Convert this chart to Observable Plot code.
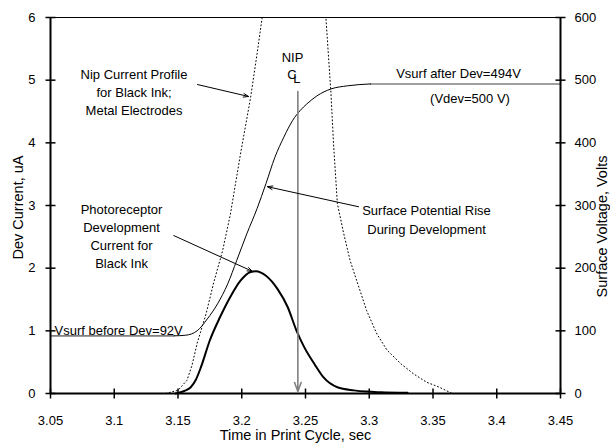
<!DOCTYPE html>
<html><head><meta charset="utf-8">
<script src="https://cdn.jsdelivr.net/npm/d3@7"></script>
<script src="https://cdn.jsdelivr.net/npm/@observablehq/plot@0.6"></script>
<style>body{margin:0;background:#fff}</style>
</head><body><div id="chart"></div>
<script>
// ---- data ----
const xTicks = [3.05, 3.1, 3.15, 3.2, 3.25, 3.3, 3.35, 3.4, 3.45];
const xTickLabels = ["3.05", "3.1", "3.15", "3.2", "3.25", "3.3", "3.35", "3.4", "3.45"];
const yTicks = [0, 1, 2, 3, 4, 5, 6];
const yTickLabels = ["0", "1", "2", "3", "4", "5", "6"];
const voltTickLabels = ["0", "100", "200", "300", "400", "500", "600"];
const voltsPerUnit = 100;

// Photoreceptor development current (uA)
const devTime = [3.148, 3.155, 3.160, 3.164, 3.168, 3.175, 3.183, 3.191, 3.199, 3.207, 3.211, 3.215, 3.219, 3.228, 3.236, 3.243, 3.249, 3.257, 3.264, 3.275, 3.288, 3.298, 3.309, 3.33];
const devCurrent = [0, 0.04, 0.10, 0.22, 0.42, 0.85, 1.22, 1.54, 1.80, 1.94, 1.95, 1.93, 1.88, 1.67, 1.38, 1.0, 0.74, 0.47, 0.26, 0.10, 0.05, 0.03, 0.02, 0.01];

// Surface voltage (V)
const vsurfTime = [3.147, 3.156, 3.165, 3.173, 3.181, 3.189, 3.196, 3.204, 3.212, 3.219, 3.226, 3.233, 3.240, 3.246, 3.251, 3.259, 3.270, 3.283, 3.301];
const vsurfVolts = [92, 93, 100, 119, 143, 175, 212, 255, 295, 335, 377, 409, 436, 452, 462, 475, 486, 491, 494];
const vsurfBefore = 92, vsurfAfter = 494;
const flatBeforeTime = [3.05, 3.147];
const flatAfterTime = [3.301, 3.45];

// Nip current profile (uA), peak above the plotted range (estimated)
const nipTime = [3.05, 3.14, 3.150, 3.157, 3.161, 3.165, 3.172, 3.178, 3.185, 3.191, 3.199, 3.207, 3.212, 3.216, 3.220, 3.243, 3.263, 3.266, 3.270, 3.272, 3.275, 3.280, 3.285, 3.291, 3.298, 3.306, 3.314, 3.325, 3.335, 3.345, 3.355, 3.365, 3.45];
const nipCurrent = [0, 0, 0.05, 0.21, 0.45, 0.80, 1.27, 1.77, 2.28, 2.85, 3.82, 4.73, 5.42, 6.0, 6.6, 9.5, 6.8, 6.0, 4.78, 3.98, 3.03, 2.55, 2.12, 1.75, 1.32, 0.95, 0.69, 0.47, 0.31, 0.18, 0.10, 0, 0];

const nipCenterTime = 3.244;
const nipLineTop = 4.82;

// annotations (anchors in data units)
const noteTexts = [
  "Nip Current Profile\nfor Black Ink;\nMetal Electrodes",
  "Photoreceptor\nDevelopment\nCurrent for\nBlack Ink",
  "Surface Potential Rise\nDuring Development",
  "Vsurf after Dev=494V",
  "(Vdev=500 V)",
  "NIP"
];
const noteTime = [3.1155, 3.1057, 3.3449, 3.370, 3.379, 3.2398];
const noteCurrent = [4.82, 2.52, 2.80, 5.106, 4.707, 5.36];
const noteLineHeight = [1.36, 1.39, 1.46, 1, 1, 1];

const arrowsFrom = [[3.1653, 4.93], [3.1467, 2.52], [3.2916, 2.98]];
const arrowsTo = [[3.2053, 4.74], [3.2083, 1.95], [3.2202, 3.30]];

// ---- tables ----
const dev = devTime.map((t, i) => ({t, v: devCurrent[i]}));
const vsurf = vsurfTime.map((t, i) => ({t, v: vsurfVolts[i] / voltsPerUnit}));
const nip = nipTime.map((t, i) => ({t, v: nipCurrent[i]}));
const flats = [
  ...flatBeforeTime.map(t => ({t, v: vsurfBefore / voltsPerUnit, k: "before"})),
  ...flatAfterTime.map(t => ({t, v: vsurfAfter / voltsPerUnit, k: "after"}))
];
const notes = noteTexts.map((text, i) => ({text, t: noteTime[i], v: noteCurrent[i], lh: noteLineHeight[i]}));
const arrows = arrowsFrom.map((f, i) => ({x1: f[0], y1: f[1], x2: arrowsTo[i][0], y2: arrowsTo[i][1]}));
const x0 = xTicks[0], x1 = xTicks[xTicks.length - 1];

// tick symbols that cross the axis line
const vTick = {draw(ctx, size) { const h = Math.sqrt(size / Math.PI); ctx.moveTo(0, -h); ctx.lineTo(0, h); }};
const hTick = {draw(ctx, size) { const h = Math.sqrt(size / Math.PI); ctx.moveTo(-h, 0); ctx.lineTo(h, 0); }};

const font = "'Liberation Sans', Arial, Helvetica, sans-serif";

const chart = Plot.plot({
  width: 610, height: 443,
  marginLeft: 50, marginRight: 50, marginTop: 17, marginBottom: 50,
  style: {fontFamily: font, fontSize: "13px", background: "#fff", color: "#000"},
  x: {domain: [x0, x1]},
  y: {domain: [0, 6]},
  marks: [
    // frame top
    Plot.ruleY([6], {stroke: "#000", strokeWidth: 1}),
    // curves
    Plot.line(nip, {x: "t", y: "v", stroke: "#000", strokeWidth: 1, strokeDasharray: "1 2.6", clip: true}),
    Plot.line(flats, {x: "t", y: "v", z: "k", stroke: "#808080", strokeWidth: 1.6}),
    Plot.line(vsurf, {x: "t", y: "v", stroke: "#000", strokeWidth: 1, curve: "monotone-x"}),
    Plot.line(dev, {x: "t", y: "v", stroke: "#000", strokeWidth: 2, curve: "monotone-x"}),
    // NIP centre line arrow
    Plot.arrow([nipCenterTime], {x1: d => d, x2: d => d, y1: nipLineTop, y2: 0, stroke: "#808080", strokeWidth: 1.6, headLength: 9, headAngle: 40, insetEnd: 2}),
    // annotation arrows
    Plot.arrow(arrows, {x1: "x1", y1: "y1", x2: "x2", y2: "y2", stroke: "#000", strokeWidth: 1, headLength: 8, headAngle: 40}),
    // axes lines
    Plot.ruleX([x0, x1], {stroke: "#000", strokeWidth: 2}),
    Plot.ruleY([0], {stroke: "#000", strokeWidth: 2}),
    // crossing ticks
    Plot.dot(xTicks, {x: d => d, y: 0, symbol: vTick, r: 5, fill: "none", stroke: "#000", strokeWidth: 1.5}),
    Plot.dot(yTicks, {x: x0, y: d => d, symbol: hTick, r: 5, fill: "none", stroke: "#000", strokeWidth: 1.5}),
    Plot.dot(yTicks, {x: x1, y: d => d, symbol: hTick, r: 5, fill: "none", stroke: "#000", strokeWidth: 1.5}),
    // tick labels
    Plot.axisX({ticks: xTicks, tickSize: 0, tickPadding: 22, tickFormat: (d, i) => xTickLabels[i], label: null, fontSize: 13}),
    Plot.axisY({ticks: yTicks, anchor: "left", tickSize: 0, tickPadding: 15, tickFormat: (d, i) => yTickLabels[i], label: null, fontSize: 13}),
    Plot.axisY({ticks: yTicks, anchor: "right", tickSize: 0, tickPadding: 14, tickFormat: (d, i) => voltTickLabels[i], label: null, fontSize: 13}),
    // axis titles
    Plot.text(["Time in Print Cycle, sec"], {frameAnchor: "bottom", textAnchor: "middle", lineAnchor: "middle", dy: 42, dx: -10, fontSize: 14.5}),
    Plot.text(["Dev Current, uA"], {frameAnchor: "left", textAnchor: "middle", lineAnchor: "middle", rotate: -90, dx: -32, dy: 2, fontSize: 14.5}),
    Plot.text(["Surface Voltage, Volts"], {frameAnchor: "right", textAnchor: "middle", lineAnchor: "middle", rotate: -90, dx: 42, dy: 21, fontSize: 14.5}),
    // annotations
    ...notes.map(n => Plot.text([n], {x: "t", y: "v", text: "text", lineHeight: n.lh, fontSize: 13, fill: "#000"})),
    Plot.text([vsurfBefore], {x: x0, y: d => d / voltsPerUnit, text: d => `Vsurf before Dev=${d}V`, textAnchor: "start", lineAnchor: "bottom", dx: 4, dy: -1, fontSize: 13}),
    Plot.text(["C"], {x: nipCenterTime, y: 5.08, dx: -6, fontSize: 13}),
    Plot.text(["L"], {x: nipCenterTime, y: 5.02, dx: -1, fontSize: 13})
  ]
});
document.getElementById("chart").appendChild(chart);
</script>
</body></html>
